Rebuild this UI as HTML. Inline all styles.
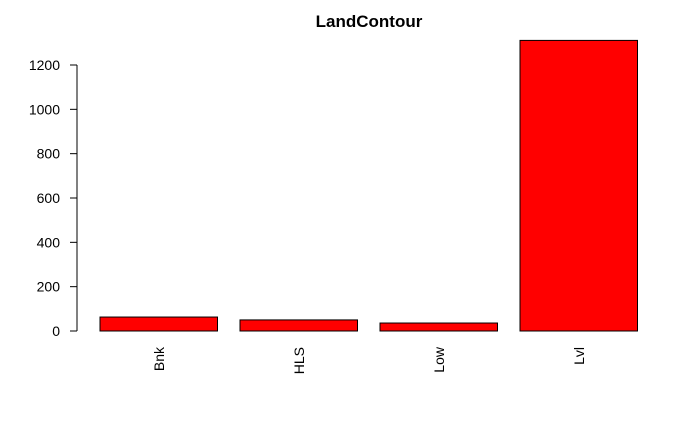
<!DOCTYPE html>
<html><head><meta charset="utf-8"><style>
html,body{margin:0;padding:0;background:#fff;}
svg{display:block;font-family:"Liberation Sans",Arial,sans-serif;}
</style></head><body>
<svg id="chart" width="700" height="432" viewBox="0 0 700 432">
<text x="369" y="27" text-anchor="middle" font-weight="bold" font-size="17">LandContour</text>
<g id="yaxis"></g>
<g id="bars"></g>
<g id="xlabels"></g>
</svg>
<script>
const categories = ["Bnk","HLS","Low","Lvl"];
const values = [63, 50, 36, 1311];
const yTicks = [0,200,400,600,800,1000,1200];
const NS="http://www.w3.org/2000/svg";
const y0=331, yScale=266/1200;
function yPos(v){return y0 - v*yScale;}
function xLeft(i){return 100 + i*140;}
const barW=117.5;
const ya=document.getElementById('yaxis');
let ln=document.createElementNS(NS,'line');
ln.setAttribute('x1',77);ln.setAttribute('x2',77);
ln.setAttribute('y1',yPos(yTicks[0]));ln.setAttribute('y2',yPos(yTicks[yTicks.length-1]));
ln.setAttribute('stroke','#000');


ya.appendChild(ln);
yTicks.forEach(t=>{
  const tk=document.createElementNS(NS,'line');
  tk.setAttribute('x1',70);tk.setAttribute('x2',77);
  tk.setAttribute('y1',yPos(t));tk.setAttribute('y2',yPos(t));
  tk.setAttribute('stroke','#000');
  
  
  ya.appendChild(tk);
  const tx=document.createElementNS(NS,'text');
  tx.setAttribute('x',60);tx.setAttribute('y',yPos(t)+5);
  tx.setAttribute('text-anchor','end');tx.setAttribute('font-size','14');
  tx.textContent=t;
  
  
  ya.appendChild(tx);
});
const bg=document.getElementById('bars'), xl=document.getElementById('xlabels');
categories.forEach((c,i)=>{
  const r=document.createElementNS(NS,'rect');
  r.setAttribute('x',xLeft(i));r.setAttribute('width',barW);
  r.setAttribute('y',yPos(values[i]));r.setAttribute('height',y0-yPos(values[i]));
  r.setAttribute('fill','#ff0000');r.setAttribute('stroke','#000');
  
  
  bg.appendChild(r);
  const cx=xLeft(i)+barW/2+5;
  const t=document.createElementNS(NS,'text');
  t.setAttribute('x',cx);t.setAttribute('y',347);
  t.setAttribute('text-anchor','end');t.setAttribute('font-size','14');
  t.setAttribute('transform','rotate(-90 '+cx+' 347)');
  t.textContent=c;
  
  
  xl.appendChild(t);
});
</script>
</body></html>
